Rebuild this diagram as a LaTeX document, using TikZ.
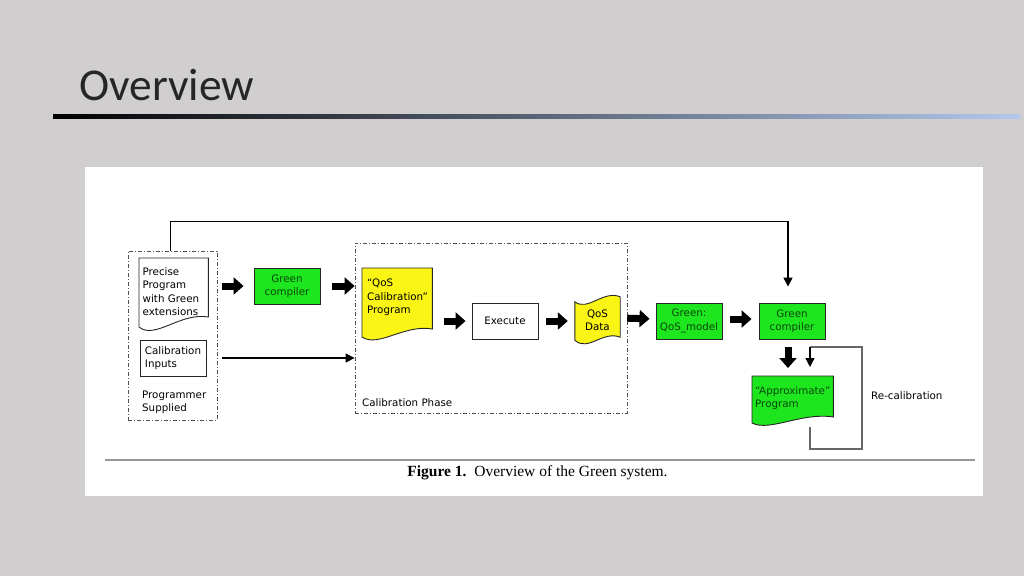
\documentclass[tikz,border=0pt]{standalone}
\usepackage{fontspec}
\setmainfont{DejaVu Sans}
\newfontfamily\titlefont{Carlito}
\newfontfamily\capfont{Liberation Serif}
\usetikzlibrary{arrows.meta,calc}
\pgfdeclarelayer{back}
\pgfdeclarelayer{shp}
\pgfsetlayers{back,shp,main}
\definecolor{bg}{RGB}{208,206,206}
\definecolor{gfill}{RGB}{30,230,30}
\definecolor{gtext}{RGB}{10,70,10}
\definecolor{yfill}{RGB}{250,245,20}
\definecolor{lb}{RGB}{178,200,236}
\definecolor{dbord}{RGB}{80,80,80}
\definecolor{rule}{RGB}{150,150,150}
\begin{document}
\begin{tikzpicture}[x=1pt,y=-1pt,
  font=\fontsize{10.3}{13.5}\selectfont,
  box/.style={draw=black!85, line width=0.9pt, minimum width=66pt, minimum height=36pt, inner sep=2pt, align=center},
  gbox/.style={box, fill=gfill, text=gtext},
  docnode/.style={anchor=north west, align=left, inner ysep=8pt},
  docshape/.style={draw=black!85, line width=0.9pt},
  dashbox/.style={draw=dbord, line width=0.8pt, dash pattern=on 4pt off 2pt on 1pt off 2pt, inner sep=0pt},
  blk/.style={line width=7pt, -{Triangle[length=10pt,width=17pt]}},
  thinarr/.style={line width=1.4pt, -{Triangle[length=9pt,width=9pt]}},
  lbl/.style={align=left, inner sep=0pt, anchor=west}
]
\useasboundingbox (0,0) rectangle (1024,576);
\begin{pgfonlayer}{back}
  \fill[bg] (0,0) rectangle (1024,576);
  \shade[left color=black, right color=lb] (53,114) rectangle (1020,118);
  \fill[white] (85,167) rectangle (983,496);
  \draw[rule, line width=1.3pt] (105,460) -- (975,460);
\end{pgfonlayer}

% title
\node[anchor=base west, inner sep=0pt, text=black!85] (title) at (79,100) {\titlefont\fontsize{45.5}{50}\selectfont Overview};

% caption
\node[inner sep=0pt] (cap) at (537.5,473) {\capfont\fontsize{15.5}{17}\selectfont\textbf{Figure 1.}\ \ Overview of the Green system.};

% left dash-dot box
\node[dashbox, minimum width=89pt, minimum height=169pt] (lbox) at (172.5,335.5) {};
\node[docnode, minimum width=69pt, text width=62pt, inner xsep=3.5pt, inner ysep=9pt] (prec) at (139,258) {Precise\\Program\\with Green\\extensions};
\begin{pgfonlayer}{shp}
  \draw[docshape, fill=white] (prec.north west) -- (prec.north east) -- ($(prec.north east)+(0,59)$)
    .. controls ($(prec.north east)+(-28,54)$) and ($(prec.north west)+(16,82)$) .. ($(prec.north west)+(0,69)$) -- cycle;
\end{pgfonlayer}
\node[box, fill=white, align=left] (cin) at (173,358) {Calibration\\Inputs};
\node[lbl] (prog) at (142,402.5) {Programmer\\Supplied};

% green compiler 1
\node[gbox] (gc1) at (287,286) {Green\\compiler};

% calibration phase box
\node[dashbox, minimum width=272pt, minimum height=170pt] (cph) at (491,328) {};
\node[lbl] (cphl) at (362,403) {Calibration Phase};

% QoS calibration program
\node[docnode, minimum width=69pt, text width=60pt, inner xsep=5pt, inner ysep=11pt] (qcal) at (362,268) {“QoS\\Calibration”\\Program};
\begin{pgfonlayer}{shp}
  \draw[docshape, fill=yfill] (qcal.north west) -- (qcal.north east) -- ($(qcal.north east)+(0,61)$)
    .. controls ($(qcal.north east)+(-28,56)$) and ($(qcal.north west)+(16,80)$) .. ($(qcal.north west)+(0,69)$) -- cycle;
\end{pgfonlayer}

% execute
\node[box, fill=white] (exec) at (505,321) {Execute};

% QoS data (tape)
\node[minimum width=45pt, minimum height=40pt, inner sep=0pt, align=center] (qd) at (597.5,320) {QoS\\Data};
\begin{pgfonlayer}{shp}
  \draw[docshape, fill=yfill] ($(qd.north west)+(0,2)$)
    .. controls ($(qd.north west)+(13,12)$) and ($(qd.north east)+(-17,-10)$) .. ($(qd.north east)+(0,-3)$)
    -- ($(qd.south east)+(0,-3)$)
    .. controls ($(qd.south east)+(-17,-10)$) and ($(qd.south west)+(13,12)$) .. (qd.south west) -- cycle;
\end{pgfonlayer}

% Green QoS model
\node[gbox] (qm) at (689,321) {Green:\\QoS\_model};
% green compiler 2
\node[gbox] (gc2) at (792,321) {Green\\compiler};

% approximate program
\node[docnode, minimum width=81pt, text width=75pt, inner xsep=3pt, inner ysep=10pt, text=gtext] (appr) at (752,376) {“Approximate”\\Program};
\begin{pgfonlayer}{shp}
  \draw[docshape, fill=gfill] (appr.north west) -- (appr.north east) -- ($(appr.north east)+(0,41)$)
    .. controls ($(appr.north east)+(-32,36)$) and ($(appr.north west)+(18,56)$) .. ($(appr.north west)+(0,47)$) -- cycle;
\end{pgfonlayer}
\node[lbl] (recal) at (871,396) {Re-calibration};

% block arrows
\draw[blk, shorten <=5pt, shorten >=10pt] (lbox.east |- gc1.west) -- (gc1.west);
\draw[blk, shorten <=12pt] (gc1.east) -- (cph.west |- gc1.east);
\draw[blk, shorten <=12pt, shorten >=6pt] (qcal.east |- exec.west) -- (exec.west);
\draw[blk, shorten <=8pt, shorten >=7pt] (exec.east) -- (qd.west |- exec.east);
\draw[blk, shorten <=7pt, shorten >=6pt] ($(qd.east)+(0,-2)$) -- ($(qm.west)+(0,-2)$);
\draw[blk, shorten <=8pt, shorten >=7pt] ($(qm.east)+(0,-2)$) -- ($(gc2.west)+(0,-2)$);
\draw[blk, shorten <=8pt, shorten >=8pt] ($(gc2.south)+(-4,0)$) -- ($(appr.north west)+(36,0)$);

% thin connectors
\draw[thinarr, shorten >=16pt] ($(lbox.north west)+(43,0)$) -- ++(0,-29) -| ($(gc2.north)+(-4,0)$);
\draw[thinarr, shorten <=5pt] (lbox.east |- cin.east) -- (cph.west |- cin.east);

\coordinate (rb) at (862,449);
\coordinate (rt) at (862,347);
\coordinate (a1) at ($(appr.north west)+(58,51)$);
\draw[draw=black!60, line width=1.3pt] (a1) -- (a1 |- rb) -- (rb) -- (rt) -- (rt -| a1);
\draw[thinarr, line width=1.3pt] (rt -| a1) -- ($(appr.north west)+(58,-9)$);
\end{tikzpicture}
\end{document}
